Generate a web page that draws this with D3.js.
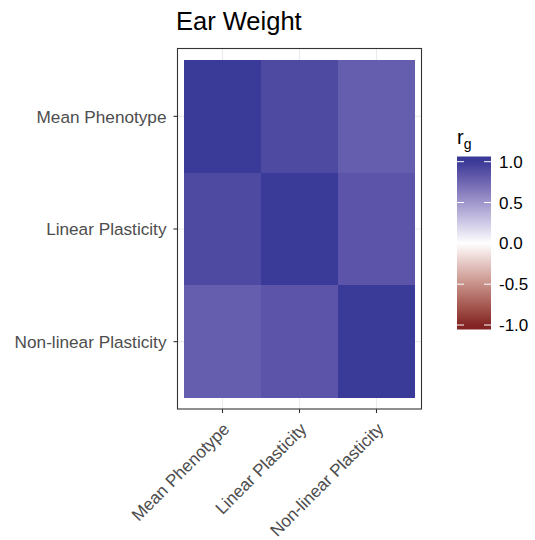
<!DOCTYPE html>
<html><head><meta charset="utf-8">
<script src="https://cdn.jsdelivr.net/npm/d3@7"></script>
<style>body{margin:0;background:#fff}</style>
</head><body>
<svg id="c" width="535" height="540"></svg>
<script>
const traits = ["Mean Phenotype", "Linear Plasticity", "Non-linear Plasticity"];
// correlation matrix rows (y) x cols (x)
const rgRow0 = [1.00, 0.91, 0.80];
const rgRow1 = [0.91, 1.00, 0.85];
const rgRow2 = [0.80, 0.85, 1.00];
const legendTicks = [1.0, 0.5, 0.0, -0.5, -1.0];
const legendLabels = ["1.0", "0.5", "0.0", "-0.5", "-1.0"];
const title = "Ear Weight";

const matrix = [rgRow0, rgRow1, rgRow2];
const cells = [];
matrix.forEach((row, i) => row.forEach((v, j) => cells.push({y: traits[i], x: traits[j], v})));

const svg = d3.select("#c");
const font = "'Liberation Sans', Arial, Helvetica, sans-serif";
const panel = {x0: 177.5, x1: 421.5, y0: 48.5, y1: 409};

const x = d3.scaleBand().domain(traits).range([184, 415]).padding(0);
const y = d3.scaleBand().domain(traits).range([60, 398]).padding(0);

const color = v => v >= 0 ? d3.interpolateLab("#ffffff", "#3A3A98")(v) : d3.interpolateLab("#ffffff", "#832424")(-v);

// panel background + grid
svg.append("rect").attr("x", panel.x0).attr("y", panel.y0).attr("width", panel.x1 - panel.x0).attr("height", panel.y1 - panel.y0).attr("fill", "#fff");
traits.forEach(t => {
  const cx = x(t) + x.bandwidth() / 2, cy = y(t) + y.bandwidth() / 2;
  svg.append("line").attr("x1", cx).attr("x2", cx).attr("y1", panel.y0).attr("y2", panel.y1).attr("stroke", "#EBEBEB").attr("stroke-width", 1.1);
  svg.append("line").attr("y1", cy).attr("y2", cy).attr("x1", panel.x0).attr("x2", panel.x1).attr("stroke", "#EBEBEB").attr("stroke-width", 1.1);
});

svg.append("g").attr("shape-rendering", "crispEdges").selectAll("rect").data(cells).join("rect")
  .attr("x", d => x(d.x)).attr("y", d => y(d.y))
  .attr("width", x.bandwidth()).attr("height", y.bandwidth())
  .attr("fill", d => color(d.v));

svg.append("rect").attr("x", panel.x0).attr("y", panel.y0).attr("width", panel.x1 - panel.x0).attr("height", panel.y1 - panel.y0)
  .attr("fill", "none").attr("stroke", "#333333").attr("stroke-width", 1.1);

const axisSize = 17.2;
// y axis
traits.forEach(t => {
  const cy = y(t) + y.bandwidth() / 2;
  svg.append("line").attr("x1", panel.x0 - 4).attr("x2", panel.x0).attr("y1", cy).attr("y2", cy).attr("stroke", "#333").attr("stroke-width", 1.1);
  svg.append("text").attr("x", panel.x0 - 11).attr("y", cy).attr("dy", "0.36em").attr("text-anchor", "end")
    .attr("font-family", font).attr("font-size", axisSize).attr("fill", "#4D4D4D").text(t);
});
// x axis
traits.forEach(t => {
  const cx = x(t) + x.bandwidth() / 2;
  svg.append("line").attr("x1", cx).attr("x2", cx).attr("y1", panel.y1).attr("y2", panel.y1 + 4).attr("stroke", "#333").attr("stroke-width", 1.1);
  svg.append("text").attr("transform", `translate(${cx - 1},${panel.y1 + 12}) rotate(-45)`)
    .attr("text-anchor", "end").attr("dy", "0.75em")
    .attr("font-family", font).attr("font-size", axisSize).attr("fill", "#4D4D4D").text(t);
});

// title
svg.append("text").attr("x", 176).attr("y", 29.5).attr("font-family", font).attr("font-size", 25.5).attr("fill", "#000").text(title);

// legend
const ly = d3.scaleLinear().domain([-1, 1]).range([325, 161.7]);
const defs = svg.append("defs");
const grad = defs.append("linearGradient").attr("id", "g").attr("x1", 0).attr("x2", 0).attr("y1", 1).attr("y2", 0);
const barTop = 156.5, barBot = 329.5;
d3.range(0, 41).forEach(k => {
  const yy = barBot - (barBot - barTop) * k / 40;
  const v = Math.max(-1, Math.min(1, ly.invert(yy)));
  grad.append("stop").attr("offset", k / 40).attr("stop-color", color(v));
});
const bx = 457, bw = 34;
svg.append("rect").attr("x", bx).attr("y", barTop).attr("width", bw).attr("height", barBot - barTop).attr("fill", "url(#g)");
legendTicks.forEach((t, i) => {
  const yy = ly(t);
  svg.append("line").attr("x1", bx).attr("x2", bx + 7).attr("y1", yy).attr("y2", yy).attr("stroke", "#fff").attr("stroke-width", 1);
  svg.append("line").attr("x1", bx + bw - 7).attr("x2", bx + bw).attr("y1", yy).attr("y2", yy).attr("stroke", "#fff").attr("stroke-width", 1);
  svg.append("text").attr("x", bx + bw + 8).attr("y", yy).attr("dy", "0.36em")
    .attr("font-family", font).attr("font-size", 17).attr("fill", "#000").text(legendLabels[i]);
});
const lt = svg.append("text").attr("x", 457).attr("y", 144).attr("font-family", font).attr("font-size", 20).attr("fill", "#000");
lt.append("tspan").text("r");
lt.append("tspan").attr("font-size", 14).attr("dy", 5).text("g");
</script>
</body></html>
